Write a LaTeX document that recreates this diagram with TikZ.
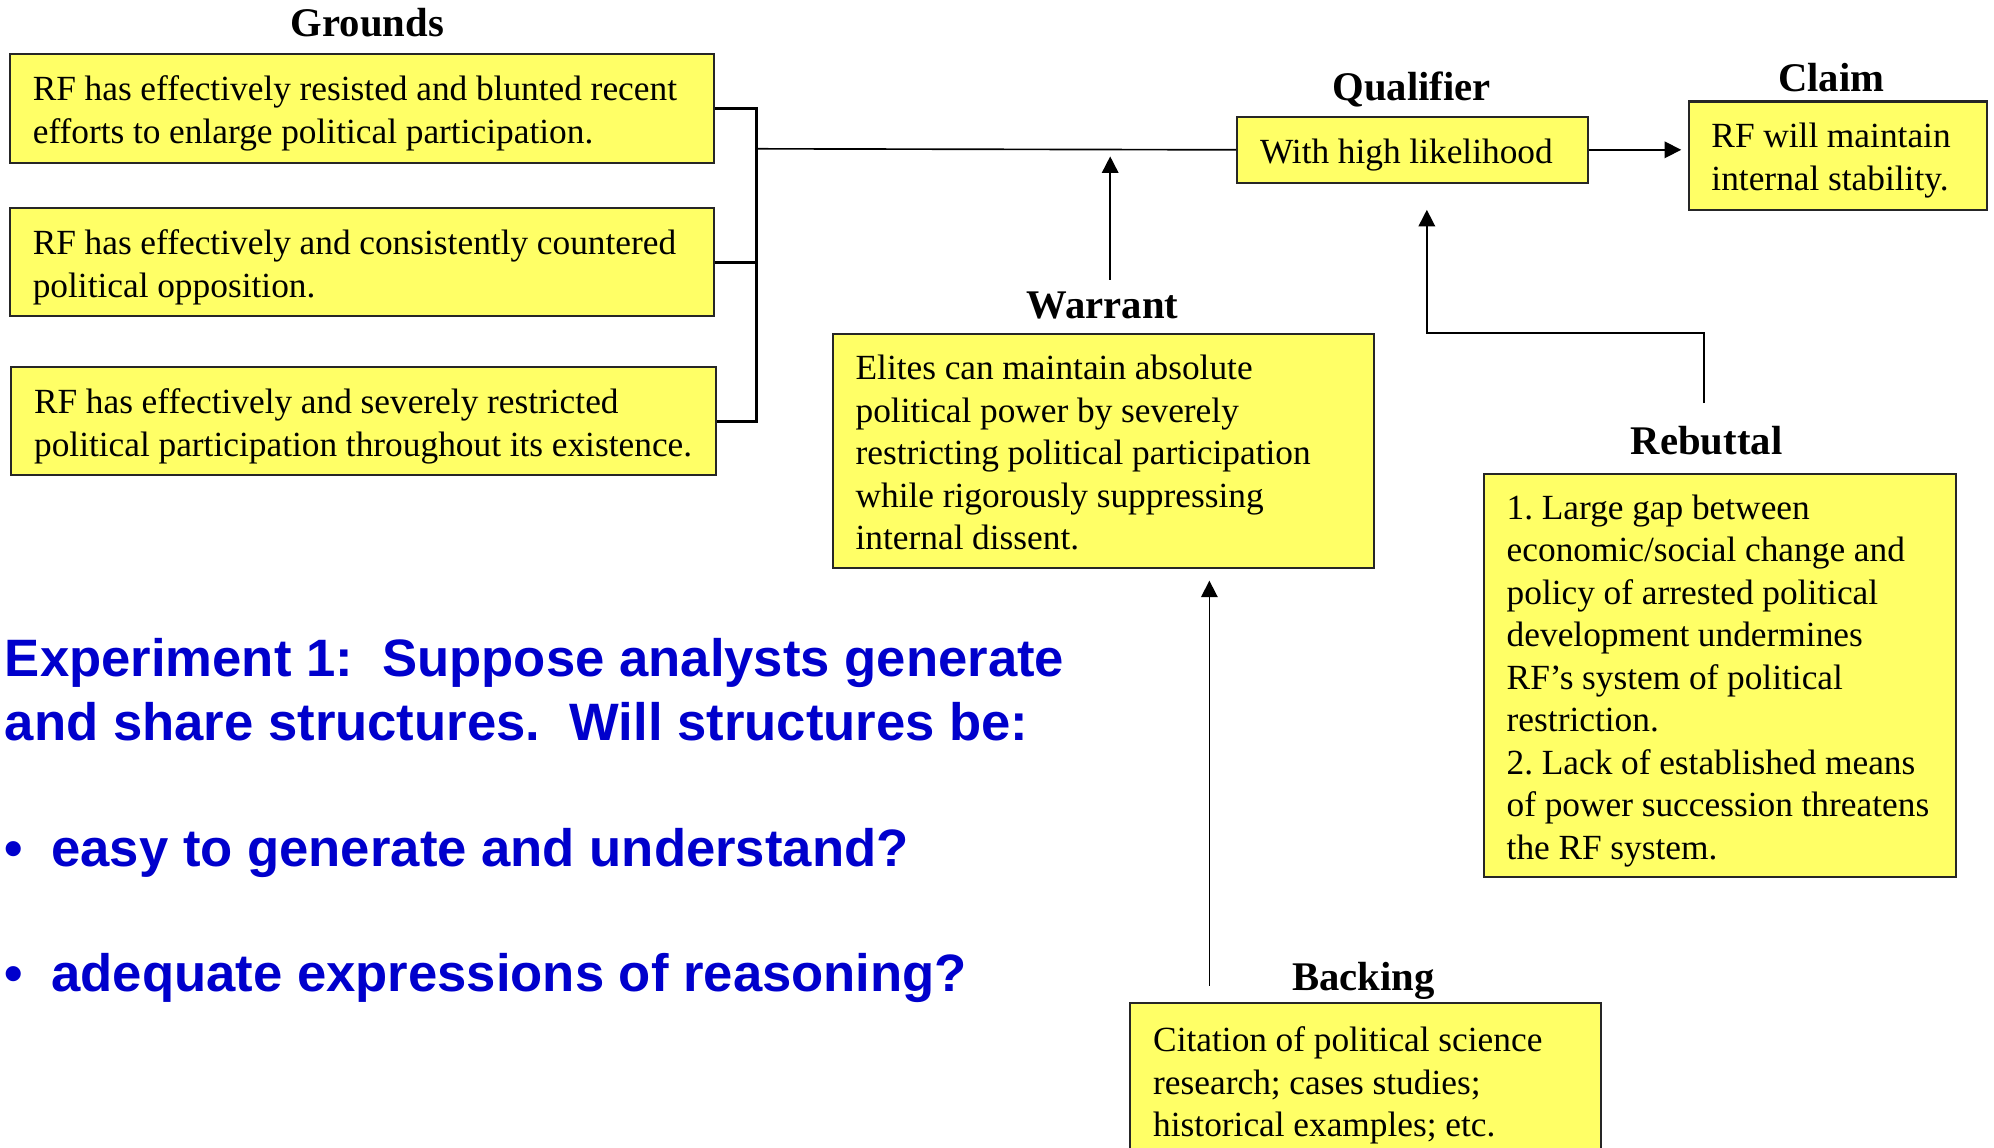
\documentclass[tikz,border=0pt]{standalone}
\usepackage{fontspec}
\setmainfont{Liberation Serif}
\newfontfamily\slidesans{Liberation Sans}
\usetikzlibrary{arrows.meta,calc}
\definecolor{boxyellow}{HTML}{FFFF66}
\definecolor{slideblue}{HTML}{0000CC}
\newcommand\boxstart{\spaceskip=0.245em plus 0pt minus 0pt\relax\rule{0pt}{15.7pt}}
\begin{document}
\frenchspacing
\begin{tikzpicture}[x=0.5pt,y=-0.5pt,
  box/.style={draw=black!85, line width=0.8pt, fill=boxyellow, anchor=north west,
    inner xsep=9pt, inner ysep=0pt, align=left,
    font=\fontsize{13.9}{16.7}\selectfont,
    execute at begin node=\boxstart, execute at end node=\strut},
  head/.style={anchor=base, inner sep=0pt, font=\fontsize{16}{19}\selectfont\bfseries},
  bluetext/.style={anchor=base west, inner sep=0pt, text=slideblue,
    font=\slidesans\bfseries\fontsize{20.7}{25}\selectfont},
  conn/.style={line width=0.65pt},
  brack/.style={line width=1.1pt},
  arr/.style={line width=0.65pt, -{Triangle[length=6.5pt,width=6.5pt]}}]
\useasboundingbox (0,0) rectangle (1568,902);

% Grounds
\node[head] (GL) at (289,28.5) {Grounds};
\node[box, minimum width=277pt, text width=259pt, minimum height=42.5pt] (G1) at (7,42)
  {\mbox{RF has effectively resisted and blunted recent}\\\mbox{efforts to enlarge political participation.}};
\node[box, minimum width=277pt, text width=259pt, minimum height=42.5pt] (G2) at (7,163)
  {\mbox{RF has effectively and consistently countered}\\\mbox{political opposition.}};
\node[box, minimum width=277pt, text width=259pt, minimum height=42.5pt] (G3) at (8,288)
  {\mbox{RF has effectively and severely restricted}\\\mbox{political participation throughout its existence.}};

% Qualifier and Claim
\node[head] (QL) at (1110,79) {Qualifier};
\node[box, minimum width=138pt, text width=120pt, minimum height=26pt] (Q) at (972,91)
  {\mbox{With high likelihood}};
\node[head] (CL) at (1440,72) {Claim};
\node[box, minimum width=117.5pt, text width=99.5pt, minimum height=42.5pt] (C) at (1327,79)
  {\mbox{RF will maintain}\\\mbox{internal stability.}};

% Warrant
\node[head] (WL) at (867,250.5) {Warrant};
\node[box, minimum width=213pt, text width=195pt, minimum height=92pt] (W) at (654,262)
  {\mbox{Elites can maintain absolute}\\\mbox{political power by severely}\\\mbox{restricting political participation}\\\mbox{while rigorously suppressing}\\\mbox{internal dissent.}};

% Rebuttal
\node[head] (RL) at (1342,357) {Rebuttal};
\node[box, minimum width=185.5pt, text width=167.5pt, minimum height=158.5pt] (R) at (1166,372)
  {\mbox{1. Large gap between}\\\mbox{economic/social change and}\\\mbox{policy of arrested political}\\\mbox{development undermines}\\\mbox{RF’s system of political}\\\mbox{restriction.}\\\mbox{2. Lack of established means}\\\mbox{of power succession threatens}\\\mbox{the RF system.}};

% Backing
\node[head] (BL) at (1072,779) {Backing};
\node[box, minimum width=185pt, text width=167pt, minimum height=61pt] (B) at (888,788)
  {\mbox{Citation of political science}\\\mbox{research; cases studies;}\\\mbox{historical examples; etc.}};

% Experiment text
\node[bluetext] (E1) at (3.5,532) {Experiment 1:\ \ Suppose analysts generate};
\node[bluetext] (E2) at (3.5,582) {and share structures.\ \ Will structures be:};
\node[bluetext] (D1) at (3,681) {•};
\node[bluetext] (T1) at (40,681) {easy to generate and understand?};
\node[bluetext] (D2) at (3,780) {•};
\node[bluetext] (T2) at (40,780) {adequate expressions of reasoning?};

% connectors
\coordinate (brk) at (595,117);
\draw[brack] (G1.east) -| (brk) |- (G3.east);
\draw[brack] (G2.east) -- (G2.east -| brk);
\draw[conn] (brk) -- (Q.west);
\draw[arr, shorten >=2.5pt] (Q.east) -- (Q.east -| C.west);

\coordinate (wfoot) at (873,220);
\coordinate (wtip) at (873,123);
\draw[arr] (wfoot) -- (wtip);

\coordinate (bfoot) at (951,775);
\draw[arr, shorten >=4.5pt] (bfoot) -- (bfoot |- W.south);

\coordinate (rfoot) at (1340,317);
\coordinate (rtip) at (1122,165);
\draw[arr] (rfoot) |- (1122,262) -- (rtip);
\end{tikzpicture}
\end{document}
